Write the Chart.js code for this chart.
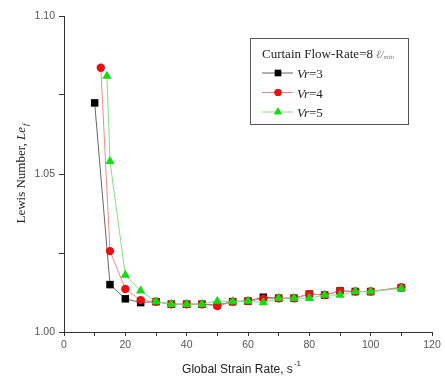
<!DOCTYPE html>
<html>
<head>
<meta charset="utf-8">
<script src="https://cdn.jsdelivr.net/npm/chart.js@4.4.1/dist/chart.umd.min.js"></script>
<style>
  html, body { margin: 0; padding: 0; background: #fff; }
  #wrap { width: 445px; height: 387px; }
</style>
</head>
<body>
<div id="wrap"><canvas id="c"></canvas></div>
<script>
// strain rate (1/s) and Lewis number for each velocity ratio
const xVr3 = [10, 15, 20, 25, 30, 35, 40, 45, 50, 55, 60, 65, 70, 75, 80, 85, 90, 95, 100, 110];
const yVr3 = [1.0725, 1.015, 1.0105, 1.0093, 1.0096, 1.0088, 1.0088, 1.0088, 1.0085, 1.0096, 1.0098, 1.011, 1.0107, 1.0107, 1.012, 1.0117, 1.013, 1.0128, 1.0128, 1.014];
const xVr4 = [12, 15, 20, 25, 30, 35, 40, 45, 50, 55, 60, 65, 70, 75, 80, 85, 90, 95, 100, 110];
const yVr4 = [1.0836, 1.0256, 1.0136, 1.0101, 1.0096, 1.0088, 1.0088, 1.0088, 1.0082, 1.0096, 1.0098, 1.0105, 1.0107, 1.0107, 1.012, 1.0117, 1.013, 1.0128, 1.0128, 1.0142];
const xVr5 = [14, 15, 20, 25, 30, 35, 40, 45, 50, 55, 60, 65, 70, 75, 80, 85, 90, 95, 100, 110];
const yVr5 = [1.081, 1.054, 1.018, 1.013, 1.0096, 1.0088, 1.0088, 1.0088, 1.0098, 1.0096, 1.0098, 1.0093, 1.0107, 1.0107, 1.0107, 1.0117, 1.0117, 1.0128, 1.0128, 1.0138];

const seriesLabels = ["3", "4", "5"];
const xTickLabels = [0, 20, 40, 60, 80, 100, 120];
const yTickLabels = [1.00, 1.05, 1.10];

const toPts = (xs, ys) => xs.map((x, i) => ({ x: x, y: ys[i] }));

const serif = "'Liberation Serif', 'DejaVu Serif', serif";
const sans = "'Liberation Sans', Arial, sans-serif";

const datasets = [
  {
    label: "Vr=3",
    data: toPts(xVr3, yVr3),
    borderColor: "#666",
    backgroundColor: "#000",
    pointBackgroundColor: "#000",
    pointBorderColor: "#000",
    pointStyle: "rect",
    pointRadius: 5.3,
    order: 2,
  },
  {
    label: "Vr=4",
    data: toPts(xVr4, yVr4),
    borderColor: "#f08a8a",
    backgroundColor: "#e81010",
    pointBackgroundColor: "#e81010",
    pointBorderColor: "#e81010",
    pointStyle: "circle",
    pointRadius: 4.2,
    order: 1,
  },
  {
    label: "Vr=5",
    data: toPts(xVr5, yVr5),
    borderColor: "#88dd88",
    backgroundColor: "#11dd11",
    pointBackgroundColor: "#11dd11",
    pointBorderColor: "#11dd11",
    pointStyle: "triangle",
    pointRadius: 5.4,
    order: 0,
  },
];
datasets.forEach(d => {
  d.borderWidth = 1;
  d.pointBorderWidth = 0;
  d.showLine = true;
  d.fill = false;
  d.tension = 0;
});

const titlesAndLegend = {
  id: "titlesAndLegend",
  afterDraw(chart) {
    const ctx = chart.ctx;
    const area = chart.chartArea;
    ctx.save();
    ctx.fillStyle = "#222";
    ctx.textBaseline = "alphabetic";

    // y axis title
    ctx.save();
    ctx.translate(25, (area.top + area.bottom) / 2);
    ctx.rotate(-Math.PI / 2);
    const f1 = "13px " + serif, f2 = "italic 13px " + serif, f3 = "italic 9px " + serif;
    ctx.font = f1; const w1 = ctx.measureText("Lewis Number, ").width;
    ctx.font = f2; const w2 = ctx.measureText("Le").width;
    ctx.font = f3; const w3 = ctx.measureText("f").width;
    let x0 = -(w1 + w2 + w3) / 2;
    ctx.font = f1; ctx.fillText("Lewis Number, ", x0, 0);
    ctx.font = f2; ctx.fillText("Le", x0 + w1, 0);
    ctx.font = f3; ctx.fillText("f", x0 + w1 + w2 + 1, 3);
    ctx.restore();

    // x axis title
    const g1 = "12px " + sans, g2 = "8px " + sans;
    ctx.font = g1; const v1 = ctx.measureText("Global Strain Rate, s").width;
    ctx.font = g2; const v2 = ctx.measureText("-1").width;
    let xs = 241 - (v1 + v2) / 2;
    ctx.font = g1; ctx.fillText("Global Strain Rate, s", xs, 373);
    ctx.font = g2; ctx.fillText("-1", xs + v1 + 1, 366);

    // legend box
    ctx.strokeStyle = "#555";
    ctx.lineWidth = 1;
    ctx.strokeRect(250.5, 38.5, 158, 86);
    ctx.font = "13px " + serif;
    ctx.fillText("Curtain Flow-Rate=8", 262, 58);
    const tw = ctx.measureText("Curtain Flow-Rate=8").width;
    ctx.font = "italic 11px " + serif;
    ctx.fillStyle = "#777";
    ctx.fillText("\u2113/", 262 + tw + 3, 58);
    const lw = ctx.measureText("\u2113/").width;
    ctx.font = "italic 7px " + serif;
    ctx.fillText("min", 262 + tw + 3 + lw, 59);
    ctx.fillStyle = "#222";

    datasets.forEach((d, i) => {
      const y = 73 + i * 19.5;
      ctx.strokeStyle = d.borderColor;
      ctx.beginPath();
      ctx.moveTo(262, y);
      ctx.lineTo(293, y);
      ctx.stroke();
      ctx.fillStyle = d.pointBackgroundColor;
      Chart.helpers.drawPoint(ctx, {
        pointStyle: d.pointStyle,
        radius: d.pointRadius * 0.85,
        borderWidth: 0,
        rotation: 0,
      }, 278, y);
      ctx.fill();
      ctx.fillStyle = "#222";
      ctx.font = "italic 13px " + serif;
      ctx.fillText("Vr", 297, y + 5);
      const vw = ctx.measureText("Vr").width;
      ctx.font = "13px " + serif;
      ctx.fillText("=" + seriesLabels[i], 297 + vw, y + 5);
    });
    ctx.restore();
  }
};

new Chart(document.getElementById("c"), {
  type: "scatter",
  data: { datasets: datasets },
  plugins: [titlesAndLegend],
  options: {
    responsive: true,
    maintainAspectRatio: false,
    animation: false,
    layout: { padding: { top: 16, right: 13, left: 0, bottom: 0 } },
    plugins: { legend: { display: false }, tooltip: { enabled: false } },
    scales: {
      x: {
        type: "linear",
        min: 0,
        max: 120,
        afterFit: s => { s.height = 55; },
        border: { display: true, color: "#333", width: 1 },
        grid: { display: true, drawOnChartArea: false, drawTicks: true, tickLength: 4, color: "#333" },
        ticks: {
          stepSize: 10,
          autoSkip: false,
          maxRotation: 0,
          padding: 3,
          color: "#555",
          font: { family: sans, size: 10.5 },
          callback: v => xTickLabels.includes(v) ? String(v) : "",
        },
      },
      y: {
        type: "linear",
        min: 1.00,
        max: 1.10,
        afterFit: s => { s.width = 64; },
        border: { display: true, color: "#333", width: 1 },
        grid: { display: true, drawOnChartArea: false, drawTicks: true, tickLength: 5, color: "#333" },
        ticks: {
          stepSize: 0.025,
          autoSkip: false,
          padding: 4,
          color: "#555",
          font: { family: sans, size: 10.5 },
          callback: v => {
            const hit = yTickLabels.find(t => Math.abs(t - v) < 1e-6);
            return hit !== undefined ? hit.toFixed(2) : "";
          },
        },
      },
    },
  },
});
</script>
</body>
</html>
